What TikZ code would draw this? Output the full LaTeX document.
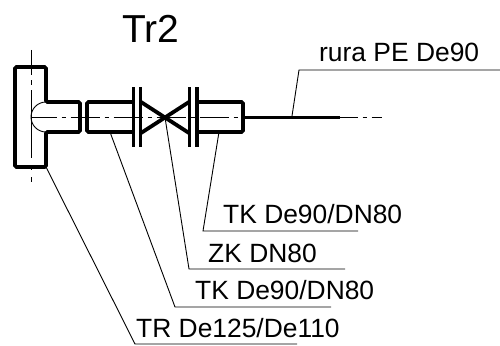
\documentclass[tikz,border=0pt]{standalone}
\usepackage{fontspec}
\setmainfont{Liberation Sans}
\tikzset{
  part/.style={line width=3.8pt,rounded corners=1.5pt},
  flange/.style={line width=3.8pt},
  leader/.style={line width=.9pt},
  axis/.style={line width=.9pt,dash pattern=on 29pt off 5pt on 4pt off 5pt},
  vaxis/.style={line width=.9pt,dash pattern=on 25pt off 5pt on 5pt off 5pt on 68pt off 8pt on 4pt off 7pt on 5pt off 20pt},
  label/.style={anchor=base west,inner sep=0,font=\fontsize{26.4}{27}\selectfont},
}

\begin{document}
\begin{tikzpicture}[x=1pt,y=-1pt]
    \useasboundingbox (0,0) rectangle (500,345);

    \node[anchor=base west,inner sep=0,font=\fontsize{39}{39}\selectfont] (title) at (122,43) {Tr2};
    \node[label] (pipeLabel) at (319,62) {rura PE De90};
    \node[label] (tkRightLabel) at (223,223) {TK De90/DN80};
    \node[label] (zkLabel) at (208,262) {ZK DN80};
    \node[label] (tkLeftLabel) at (195,299) {TK De90/DN80};
    \node[label] (trLabel) at (136,337) {TR De125/De110};

    % axes
    \draw[axis,dash phase=3.5pt] (31,117.5) -- (382,117.5);
    \draw[vaxis] (31,50) -- (31,183);

    % tee
    \draw[part] (46,102) -- (46,67) -- (15,67) -- (15,167) -- (46,167) -- (46,132) -- (80,132) -- (80,102) -- cycle;
    \draw[leader] (46,102) arc (270:90:15);

    % left socket and flanges
    \draw[part] (133,102) -- (87,102) -- (87,132) -- (133,132);
    \draw[flange] (133.5,87) -- (133.5,147);
    \draw[flange] (140.5,87) -- (140.5,147);

    % valve
    \coordinate (V) at (165,117.5);
    \draw[flange] (141,102) -- (189,133);
    \draw[flange] (141,133) -- (189,102);

    % right socket and flanges
    \draw[flange] (189.5,87) -- (189.5,147);
    \draw[flange] (197,87) -- (197,147);
    \draw[part] (197,102) -- (243,102) -- (243,132) -- (197,132);

    % pipe
    \coordinate (pipeEnd) at (340,117.5);
    \draw[line width=3.8pt] (243,117.5) -- (pipeEnd);

    % leaders
    \coordinate (a) at (292,116);
    \coordinate (b) at (219,132);
    \coordinate (c) at (110,132);
    \coordinate (d) at (46,167);
    \draw[leader] (a) -- (299,70) -- (500,70);
    \draw[leader] (b) -- (203,231) -- (358,231);
    \draw[leader] (V) -- (189,269) -- (345,269);
    \draw[leader] (c) -- (175,307) -- (331,307);
    \draw[leader] (d) -- (135,344) -- (297,344);
\end{tikzpicture}
\end{document}
